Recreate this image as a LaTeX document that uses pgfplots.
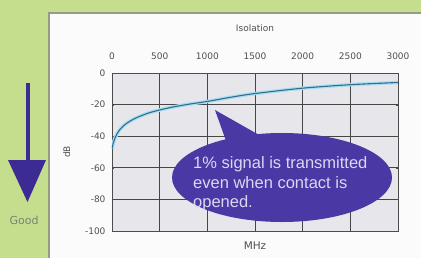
\documentclass[border=0pt]{standalone}
\usepackage{fontspec}
\setmainfont{DejaVu Sans}
\newfontfamily\arial{Liberation Sans}
\usepackage{pgfplots}
\pgfplotsset{compat=1.18}
\definecolor{bggreen}{HTML}{C4DE8D}
\definecolor{panel}{HTML}{FBFBFB}
\definecolor{plotbg}{HTML}{E7E7EB}
\definecolor{arrowc}{HTML}{3B2B93}
\definecolor{bubble}{HTML}{4A39A4}
\definecolor{bubtext}{HTML}{DCD6F2}
\definecolor{glow}{HTML}{A9DDF0}
\definecolor{curve}{HTML}{2F6F8F}
\definecolor{labc}{HTML}{505050}
\definecolor{goodc}{HTML}{7A8470}
\begin{document}
\begin{tikzpicture}
\useasboundingbox (0pt,0pt) rectangle (421pt,-258pt);
\fill[bggreen] (0pt,0pt) rectangle (421pt,-258pt);
\fill[panel] (49pt,-13pt) rectangle (421pt,-258pt);
\draw[gray!70!bggreen, line width=1.2pt] (49pt,-258pt) -- (49pt,-13pt) -- (421pt,-13pt);
% left arrow
\fill[arrowc] (25.8pt,-83pt) rectangle (29.6pt,-162pt);
\fill[arrowc] (8pt,-160pt) -- (46pt,-160pt) -- (27.5pt,-202pt) -- cycle;
\node[text=goodc, font=\fontsize{11}{12}\selectfont] at (24pt,-220pt) {Good};
\begin{axis}[
  at={(112pt,-231pt)}, anchor=south west,
  scale only axis, width=286pt, height=158pt,
  xmin=0, xmax=3000, ymin=-100, ymax=0,
  xtick={0,500,...,3000}, ytick={-100,-80,...,0},
  xticklabel pos=right,
  /pgf/number format/set thousands separator={},
  /pgf/number format/assume math mode=true,
  tick label style={font=\fontsize{9}{10}\selectfont, text=labc},
  xticklabel style={yshift=10pt},
  yticklabel style={xshift=-3pt},
  grid=major,
  major grid style={gray!55!black, line width=0.8pt},
  axis line style={gray!60!black, line width=0.8pt},
  tick style={gray!60!black},
  major tick length=2pt,
  xtick style={draw=none},
  axis background/.style={fill=plotbg},
  title={Isolation},
  title style={font=\fontsize{9}{10}\selectfont, text=labc, at={(0.5,1)}, anchor=center, yshift=39pt},
  xlabel={MHz},
  xlabel style={font=\fontsize{10.5}{11}\selectfont, text=labc, at={(0.5,0)}, anchor=north, yshift=-7pt},
  ylabel={dB},
  ylabel style={font=\fontsize{9}{10}\selectfont, text=labc, yshift=8pt},
]
\addplot[color=glow, line width=3.5pt, smooth] coordinates {
(0,-48) (15,-44) (40,-40) (80,-36) (150,-32) (250,-28.5) (400,-25) (600,-22)
(800,-19.8) (1000,-18) (1250,-15.3) (1500,-13) (2000,-9.6) (2500,-7.4) (3000,-6)};
\addplot[color=curve, line width=1.1pt, smooth] coordinates {
(0,-48) (15,-44) (40,-40) (80,-36) (150,-32) (250,-28.5) (400,-25) (600,-22)
(800,-19.8) (1000,-18) (1250,-15.3) (1500,-13) (2000,-9.6) (2500,-7.4) (3000,-6)};
\end{axis}
% speech bubble
\fill[bubble] (282pt,-177.5pt) ellipse (110pt and 44.5pt);
\fill[bubble] (215pt,-110pt) -- (230pt,-152pt) -- (268pt,-140pt) -- cycle;
\begin{scope}[every node/.style={anchor=base west, inner sep=0, text=bubtext, font=\arial\fontsize{16.5}{18}\selectfont}]
\node at (193pt,-168.5pt) {1\% signal is transmitted};
\node at (193pt,-188pt) {even when contact is};
\node at (193pt,-207pt) {opened.};
\end{scope}
\end{tikzpicture}
\end{document}
